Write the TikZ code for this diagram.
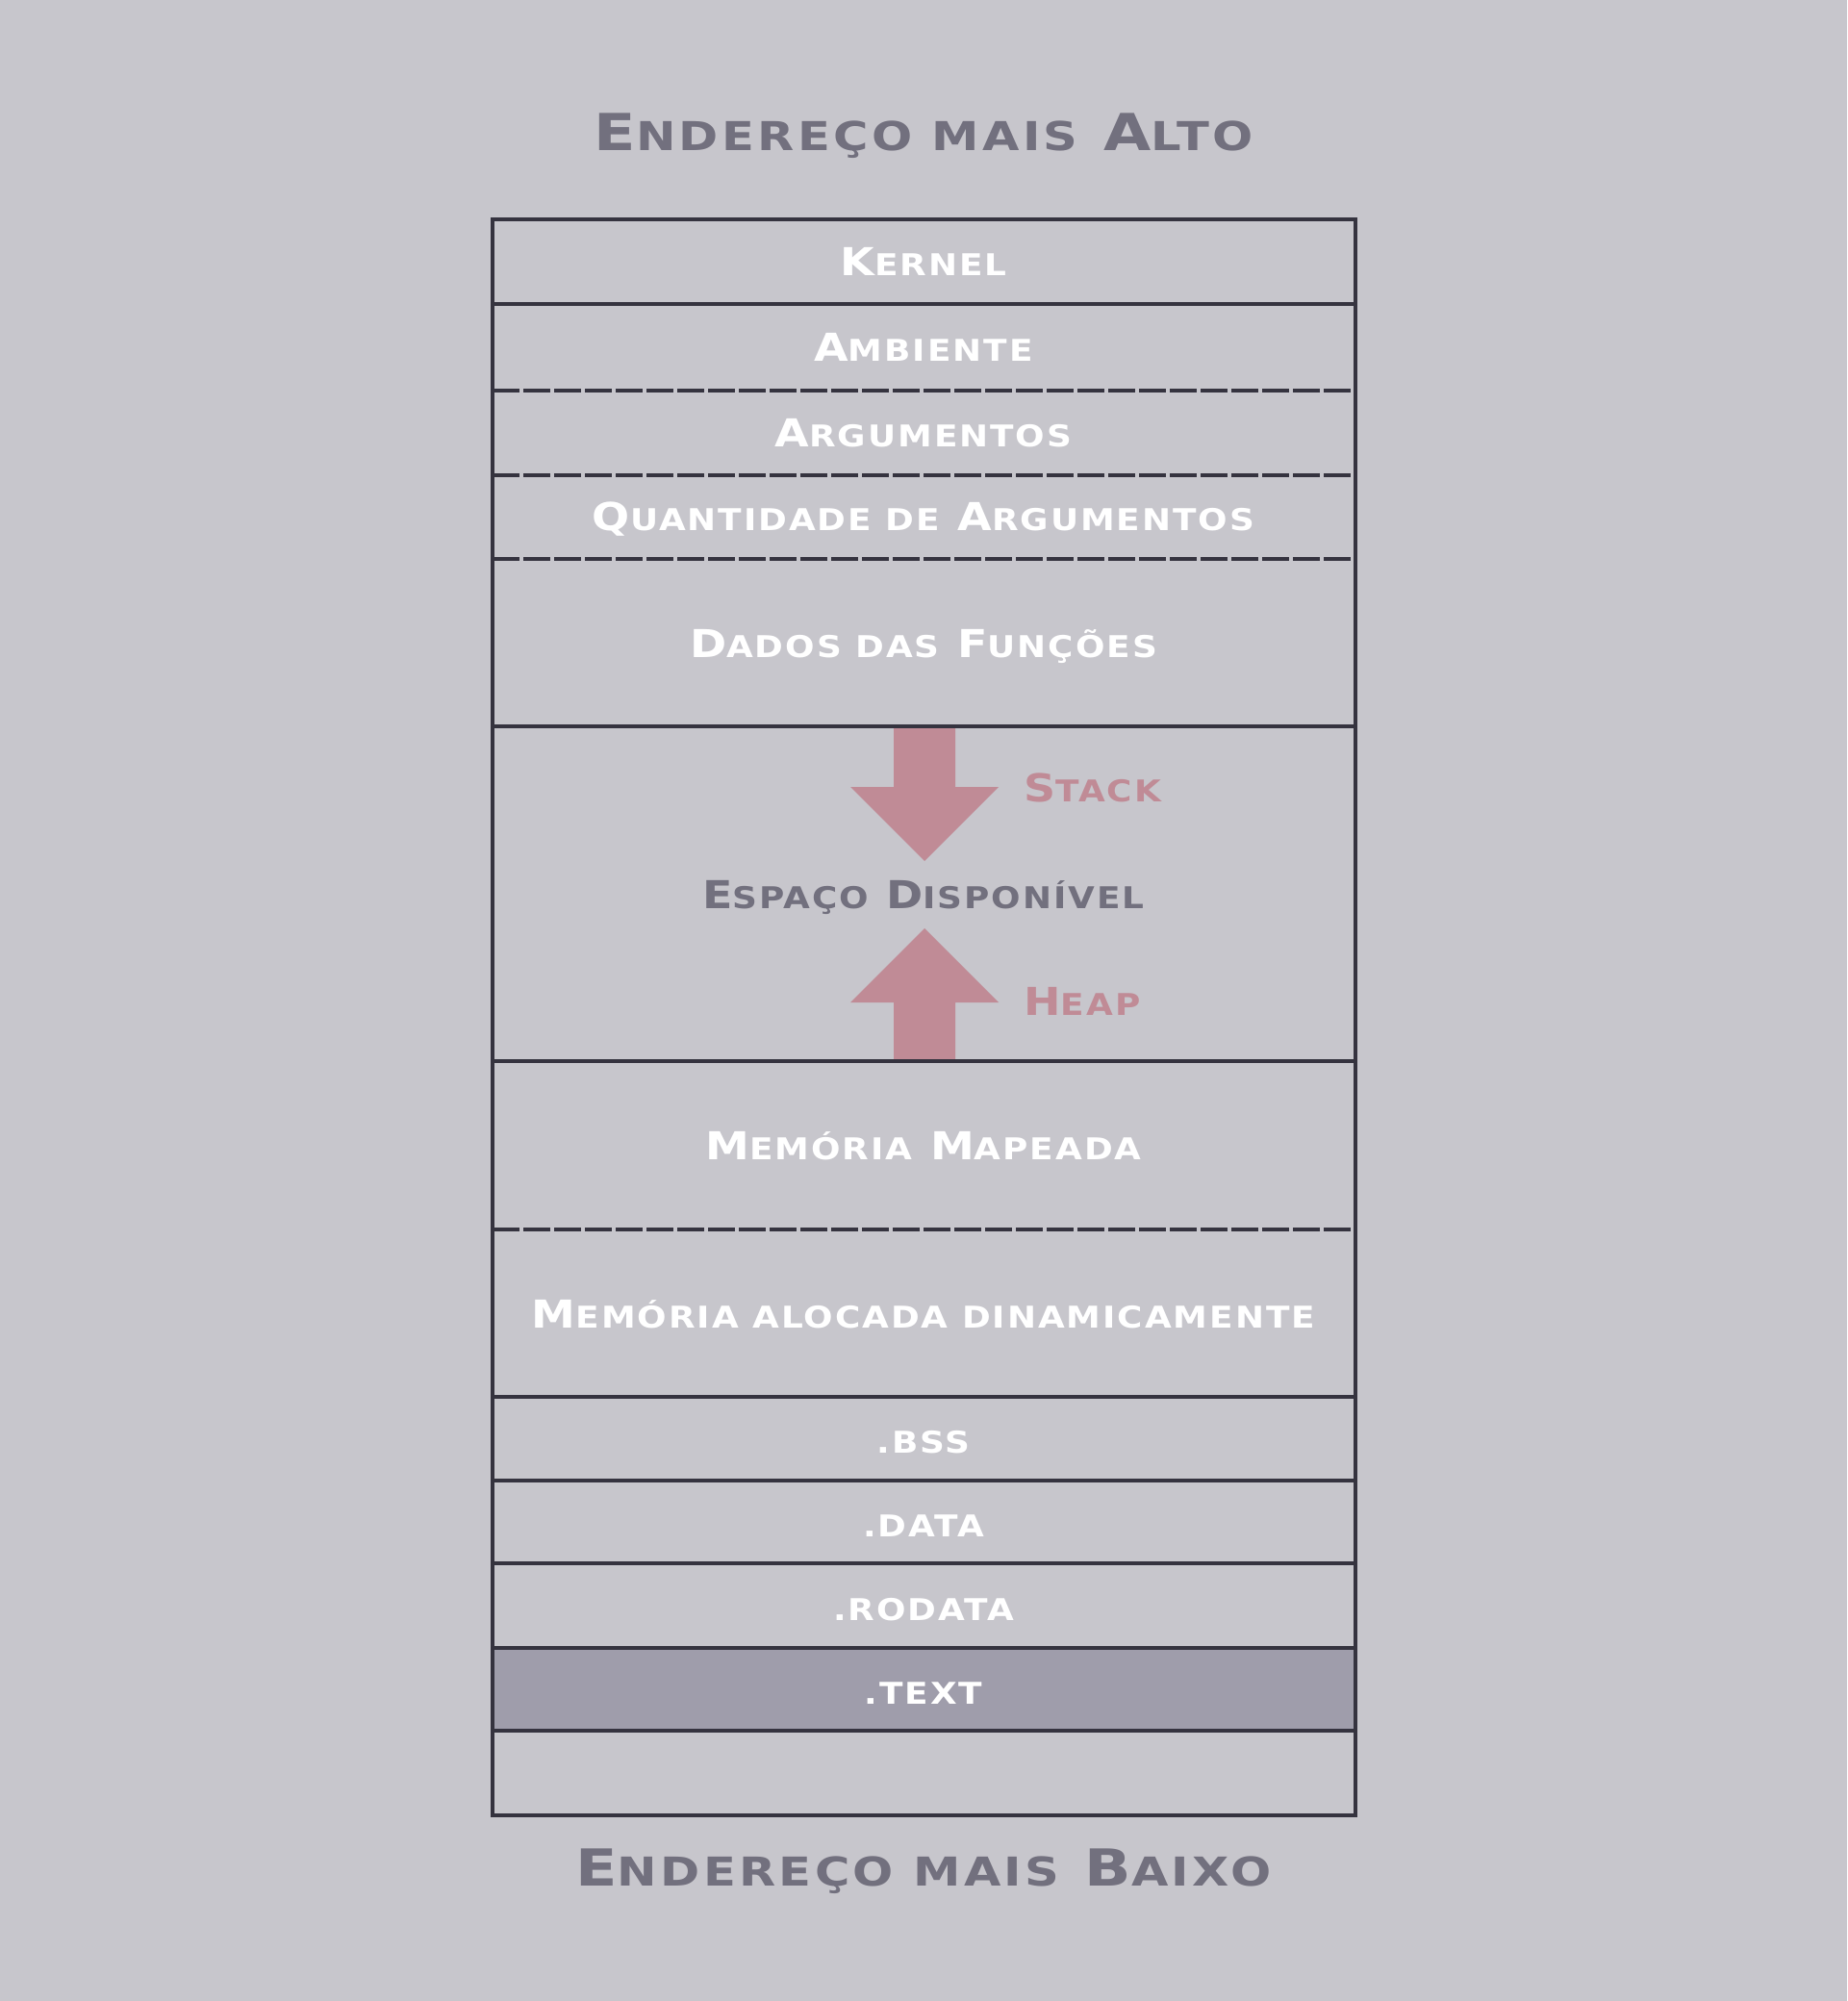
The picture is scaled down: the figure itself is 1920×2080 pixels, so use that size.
\documentclass[tikz,border=0pt]{standalone}
\usepackage{fontspec}
\usepackage{graphicx}
\newfontfamily\px{DejaVu Sans}[FakeStretch=1.15,LetterSpace=6.3]
\newfontfamily\pxw{DejaVu Sans}[FakeStretch=1.2,LetterSpace=8]
\definecolor{bg}{HTML}{C7C6CC}
\definecolor{ln}{HTML}{35333F}
\definecolor{ttl}{HTML}{72707E}
\definecolor{arr}{HTML}{C08B96}
\definecolor{txtfill}{HTML}{9F9DAB}
\newcommand\sm[1]{\scalebox{0.78}{#1}}
\tikzset{
  rowtxt/.style={font=\px\bfseries\fontsize{20pt}{24pt}\selectfont, text=white, inner sep=0pt, anchor=base},
  titletxt/.style={font=\pxw\bfseries\fontsize{26.5pt}{30pt}\selectfont, text=ttl, inner sep=0pt, anchor=base},
  midtxt/.style={font=\px\bfseries\fontsize{20pt}{24pt}\selectfont, text=ttl, inner sep=0pt, anchor=base},
  arrtxt/.style={font=\px\bfseries\fontsize{20pt}{24pt}\selectfont, text=arr, inner sep=0pt, anchor=base west},
  solidline/.style={draw=ln, line width=1.75pt},
  dashline/.style={draw=ln, line width=1.9pt, dash pattern=on 14pt off 2pt},
  arrowshape/.style={fill=arr, draw=none}
}
\begin{document}
\begin{tikzpicture}[x=0.5pt,y=-0.5pt]
\fill[bg] (0,0) rectangle (1920,2080);
\useasboundingbox (0,0) rectangle (1920,2080);
% .text fill
\fill[txtfill] (512,1713) rectangle (1409,1799);
% arrows
\fill[arrowshape] (929,755) -- (993,755) -- (993,818) -- (1038,818) -- (961,895) -- (884,818) -- (929,818) -- cycle;
\fill[arrowshape] (929,1103) -- (993,1103) -- (993,1042) -- (1038,1042) -- (961,965) -- (884,1042) -- (929,1042) -- cycle;
% coordinates for lines
\foreach \n/\y in {a/316,b/406,c/494,d/581,e/755,f/1103,g/1278,h/1452,i/1539,j/1625,k/1713,l/1799}{
  \coordinate (L\n) at (512,\y);
  \coordinate (R\n) at (1409,\y);
}
\foreach \n in {a,e,f,h,i,j,k,l}{ \draw[solidline] (L\n) -- (R\n); }
\foreach \n in {b,c,d,g}{ \draw[dashline] (L\n) -- (R\n); }
\draw[solidline] (512,228) rectangle (1409,1887);
% titles
\node[titletxt] (top) at (960,157) {E\sm{NDEREÇO MAIS} A\sm{LTO}};
\node[titletxt] (bottom) at (960,1960) {E\sm{NDEREÇO MAIS} B\sm{AIXO}};
% rows
\node[rowtxt] (kernel) at (960,287) {K\sm{ERNEL}};
\node[rowtxt] (amb) at (960,376) {A\sm{MBIENTE}};
\node[rowtxt] (args) at (960,465) {A\sm{RGUMENTOS}};
\node[rowtxt] (qtd) at (960,552) {Q\sm{UANTIDADE DE} A\sm{RGUMENTOS}};
\node[rowtxt] (dados) at (960,683) {D\sm{ADOS DAS} F\sm{UNÇÕES}};
\node[midtxt] (esp) at (960,944) {E\sm{SPAÇO} D\sm{ISPONÍVEL}};
\node[arrtxt] (stack) at (1064,833) {S\sm{TACK}};
\node[arrtxt] (heap) at (1064,1055) {H\sm{EAP}};
\node[rowtxt] (mapeada) at (960,1205) {M\sm{EMÓRIA} M\sm{APEADA}};
\node[rowtxt] (aloc) at (960,1380) {M\sm{EMÓRIA ALOCADA DINAMICAMENTE}};
\node[rowtxt] (bss) at (960,1510) {\sm{.BSS}};
\node[rowtxt] (data) at (960,1597) {\sm{.DATA}};
\node[rowtxt] (rodata) at (960,1684) {\sm{.RODATA}};
\node[rowtxt] (text) at (960,1771) {\sm{.TEXT}};
\end{tikzpicture}
\end{document}
